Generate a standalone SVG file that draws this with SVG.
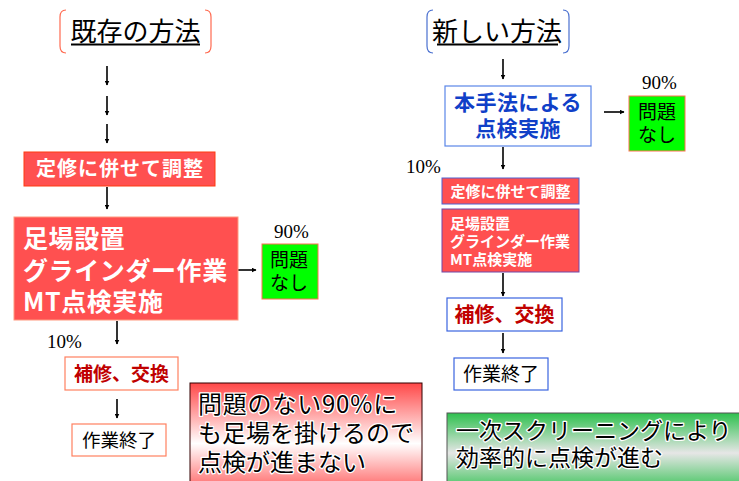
<svg xmlns="http://www.w3.org/2000/svg" width="739" height="481" viewBox="0 0 739 481">
<style>
.jp{font-family:"Noto Sans CJK JP","Noto Sans CJK SC",sans-serif}
.title{font-size:26px;fill:#000}
.wb{font-weight:bold;fill:#fff}
.pct{font-family:"Liberation Serif",serif;font-size:19px;fill:#000}
.conn{stroke:#000;stroke-width:1.6;fill:none;marker-end:url(#ah)}
.red{fill:#ff5050}
.halo{paint-order:stroke;stroke:#fff;stroke-width:2.5;stroke-linejoin:round}
</style>
<defs>
<marker id="ah" viewBox="0 0 10 10" refX="9" refY="5" markerWidth="5" markerHeight="5" orient="auto" markerUnits="userSpaceOnUse">
<path d="M0,0 L10,5 L0,10 z" fill="#000"/>
</marker>
<linearGradient id="gr" x1="0" y1="0" x2="0" y2="1">
<stop offset="0" stop-color="#ff4848"/>
<stop offset="0.55" stop-color="#ffffff"/>
<stop offset="1" stop-color="#ff5a5a"/>
</linearGradient>
<linearGradient id="gg" x1="0" y1="0" x2="0" y2="1">
<stop offset="0" stop-color="#2ec04e"/>
<stop offset="0.5" stop-color="#e6e6e6"/>
<stop offset="1" stop-color="#2ec04e"/>
</linearGradient>
</defs>
<rect width="739" height="481" fill="#fff"/>

<g id="title-old">
<path d="M66,10 Q60,10 60,17 L60,46 Q60,53 66,53" fill="none" stroke="#ff6a50" stroke-width="1.2"/>
<path d="M205,10 Q211,10 211,17 L211,46 Q211,53 205,53" fill="none" stroke="#ff6a50" stroke-width="1.2"/>
<text class="jp title" x="135.5" y="41" text-anchor="middle">既存の方法</text>
<line x1="71" y1="44.5" x2="200" y2="44.5" stroke="#000" stroke-width="1.8"/>
</g>

<g id="title-new">
<path d="M433,10 Q427,10 427,17 L427,46 Q427,53 433,53" fill="none" stroke="#4a70d0" stroke-width="1.2"/>
<path d="M563,10 Q569,10 569,17 L569,46 Q569,53 563,53" fill="none" stroke="#4a70d0" stroke-width="1.2"/>
<text class="jp title" x="497" y="41" text-anchor="middle">新しい方法</text>
<line x1="437" y1="44.5" x2="558" y2="44.5" stroke="#000" stroke-width="1.8"/>
</g>

<g id="connectors">
<line class="conn" x1="107" y1="66" x2="107" y2="85"/>
<line class="conn" x1="107" y1="96" x2="107" y2="115"/>
<line class="conn" x1="107" y1="124" x2="107" y2="143"/>
<line class="conn" x1="107" y1="187" x2="107" y2="209"/>
<line class="conn" x1="238" y1="270" x2="256" y2="270"/>
<line class="conn" x1="117" y1="321" x2="117" y2="344"/>
<line class="conn" x1="117" y1="399" x2="117" y2="418"/>
<line class="conn" x1="503" y1="59" x2="503" y2="79"/>
<line class="conn" x1="604" y1="112" x2="624" y2="112"/>
<line class="conn" x1="503" y1="147" x2="503" y2="169"/>
<line class="conn" x1="503" y1="273" x2="503" y2="296"/>
<line class="conn" x1="503" y1="333" x2="503" y2="353"/>
</g>

<g id="old-adjust">
<rect class="red" x="24" y="152" width="191" height="34" stroke="#ff3a10" stroke-width="1"/>
<text class="jp wb" x="120" y="176" font-size="20" letter-spacing="1" text-anchor="middle">定修に併せて調整</text>
</g>

<g id="old-work">
<rect class="red" x="14" y="217" width="224" height="103" stroke="#ff9a80" stroke-width="1"/>
<text class="jp wb" x="23" y="248" font-size="25" letter-spacing="0.6">足場設置</text>
<text class="jp wb" x="23" y="280" font-size="25" letter-spacing="0.6">グラインダー作業</text>
<text class="jp wb" x="23" y="311" font-size="25" letter-spacing="0.6">MT点検実施</text>
</g>

<g id="old-ok">
<text class="pct" x="274" y="238">90%</text>
<rect x="262" y="244" width="56" height="55" fill="#00ff00" stroke="#ff7050" stroke-width="1"/>
<text class="jp" x="270" y="267" font-size="19" fill="#000">問題</text>
<text class="jp" x="270" y="290" font-size="19" fill="#000">なし</text>
</g>

<g id="old-repair">
<text class="pct" x="47" y="348">10%</text>
<rect x="65" y="357" width="113" height="33" fill="#fff" stroke="#ff8060" stroke-width="1.2"/>
<text class="jp" x="121.5" y="381" font-size="19" font-weight="bold" fill="#c00000" text-anchor="middle">補修、交換</text>
</g>

<g id="old-end">
<rect x="72" y="424" width="94" height="32" fill="#fff" stroke="#ff8060" stroke-width="1.2"/>
<text class="jp" x="119" y="447" font-size="18.5" fill="#000" text-anchor="middle">作業終了</text>
</g>

<g id="old-note">
<rect x="190" y="383" width="232" height="110" fill="url(#gr)" stroke="#300" stroke-width="1"/>
<text class="jp halo" x="198" y="413" font-size="24" letter-spacing="0.8" fill="#000">問題のない90%に</text>
<text class="jp halo" x="198" y="442" font-size="24" fill="#000">も足場を掛けるので</text>
<text class="jp halo" x="198" y="471" font-size="24" fill="#000">点検が進まない</text>
</g>

<g id="new-inspect">
<rect x="445" y="86" width="146" height="60" fill="#fff" stroke="#5a86e8" stroke-width="1.2"/>
<text class="jp" x="518" y="110" font-size="21" letter-spacing="0.4" font-weight="bold" fill="#1040c8" text-anchor="middle">本手法による</text>
<text class="jp" x="518" y="136" font-size="21" letter-spacing="0.4" font-weight="bold" fill="#1040c8" text-anchor="middle">点検実施</text>
</g>

<g id="new-ok">
<text class="pct" x="642" y="89">90%</text>
<rect x="629" y="96" width="56" height="55" fill="#00ff00" stroke="#ff7050" stroke-width="1"/>
<text class="jp" x="638" y="119" font-size="19" fill="#000">問題</text>
<text class="jp" x="638" y="142" font-size="19" fill="#000">なし</text>
</g>

<g id="new-adjust">
<text class="pct" x="406" y="173">10%</text>
<rect class="red" x="442" y="178" width="137" height="26" stroke="#5060d0" stroke-width="1"/>
<text class="jp wb" x="510.5" y="197" font-size="15" text-anchor="middle">定修に併せて調整</text>
</g>

<g id="new-work">
<rect class="red" x="442" y="209" width="137" height="63" stroke="#7048a8" stroke-width="1"/>
<text class="jp wb" x="450" y="229" font-size="15">足場設置</text>
<text class="jp wb" x="450" y="247" font-size="15">グラインダー作業</text>
<text class="jp wb" x="450" y="265" font-size="15">MT点検実施</text>
</g>

<g id="new-repair">
<rect x="447" y="298" width="115" height="33" fill="#fff" stroke="#3a64e0" stroke-width="1.2"/>
<text class="jp" x="504.5" y="322" font-size="20" font-weight="bold" fill="#c00000" text-anchor="middle">補修、交換</text>
</g>

<g id="new-end">
<rect x="454" y="358" width="94" height="32" fill="#fff" stroke="#3a64e0" stroke-width="1.2"/>
<text class="jp" x="501" y="381" font-size="19" fill="#000" text-anchor="middle">作業終了</text>
</g>

<g id="new-note">
<rect x="447" y="413" width="300" height="80" fill="url(#gg)" stroke="#555" stroke-width="1"/>
<text class="jp halo" x="456" y="439" font-size="23" fill="#000">一次スクリーニングにより</text>
<text class="jp halo" x="456" y="466" font-size="23" fill="#000">効率的に点検が進む</text>
</g>
</svg>
